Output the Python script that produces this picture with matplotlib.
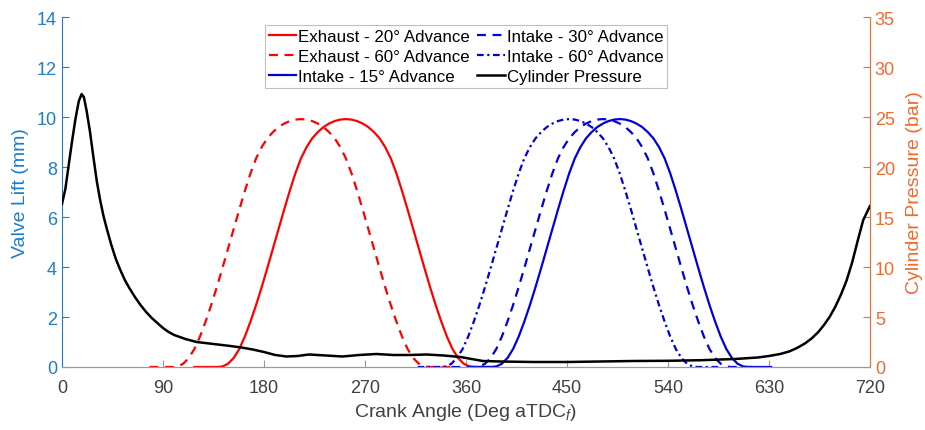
import matplotlib
matplotlib.use('Agg')
import matplotlib.pyplot as plt

plt.rcParams['font.family'] = ['Liberation Sans', 'DejaVu Sans']
plt.rcParams['mathtext.fontset'] = 'custom'
plt.rcParams['mathtext.rm'] = 'Liberation Sans'
plt.rcParams['mathtext.it'] = 'Liberation Sans:italic'

################################
# valve lift profile (deg relative to peak lift, mm)
lift_rel = [-135, -114, -110, -105, -100, -95, -90, -85, -80, -75, -70, -65, -60, -55,
            -50, -45, -40, -35, -30, -25, -20, -15, -10, -5, 0,
            5, 10, 15, 20, 25, 30, 35, 40, 45, 50, 55, 60, 65, 70, 75, 80, 85, 90,
            95, 100, 105, 110, 114, 135]
lift_mm = [0, 0, 0.02, 0.13, 0.36, 0.72, 1.22, 1.82, 2.48, 3.2, 3.96, 4.74, 5.52, 6.3,
           7.05, 7.75, 8.35, 8.8, 9.15, 9.4, 9.6, 9.74, 9.84, 9.9, 9.92,
           9.9, 9.84, 9.74, 9.6, 9.4, 9.15, 8.8, 8.35, 7.75, 7.05, 6.3, 5.52, 4.74,
           3.96, 3.2, 2.48, 1.82, 1.22, 0.72, 0.36, 0.13, 0.02, 0, 0]

# crank angle of peak lift for each valve event
valve_labels = ['Exhaust - 20° Advance', 'Exhaust - 60° Advance', 'Intake - 15° Advance',
                'Intake - 30° Advance', 'Intake - 60° Advance']
valve_peaks = [253, 213, 497, 482, 452]

################################
# cylinder pressure (bar)
crank_deg = [0, 3, 6, 9, 12, 15, 17.5, 19.5, 22, 25, 28, 31, 34, 37, 40, 44, 48, 52, 56,
             60, 65, 70, 75, 80, 85, 90, 95, 100, 110, 120, 135, 150, 160, 170, 180, 190,
             200, 210, 220, 235, 250, 265, 280, 295, 310, 325, 340, 355, 365, 375, 390,
             420, 450, 480, 510, 540, 570, 600, 620, 630, 640, 648, 655, 662, 668, 674,
             679, 684, 689, 694, 699, 704, 709, 714, 720]
pressure_bar = [16.3, 17.8, 20.2, 22.6, 24.8, 26.6, 27.3, 27.0, 25.6, 23.5, 21.0, 18.6,
                16.7, 15.1, 13.8, 12.2, 10.8, 9.7, 8.7, 7.9, 7.0, 6.2, 5.5, 4.9, 4.4,
                3.9, 3.5, 3.2, 2.8, 2.5, 2.3, 2.1, 1.95, 1.75, 1.5, 1.2, 1.05, 1.1,
                1.25, 1.15, 1.05, 1.2, 1.3, 1.2, 1.2, 1.25, 1.15, 1.0, 0.8, 0.6, 0.55,
                0.5, 0.5, 0.55, 0.6, 0.62, 0.68, 0.8, 0.95, 1.1, 1.3, 1.55, 1.9, 2.35,
                2.85, 3.5, 4.2, 5.0, 6.0, 7.2, 8.6, 10.4, 12.6, 14.7, 16.1]

#################################
left_col = '#1B7FCC'
right_col = '#F26A2C'
styles = [dict(color='#FF0000', ls='-'),
          dict(color='#FF0000', ls=(0, (4, 3))),
          dict(color='#0000DD', ls='-'),
          dict(color='#0000DD', ls=(0, (4, 3))),
          dict(color='#0000DD', ls=(0, (3, 1.6, 1, 1.6)))]

fig = plt.figure(figsize=(9.25, 4.31), dpi=100)
ax = fig.add_axes([0.067, 0.1462, 0.8735, 0.8118])
ax2 = ax.twinx()

handles = []
for label, peak, st in zip(valve_labels, valve_peaks, styles):
    xs = [peak + r for r in lift_rel]
    h, = ax.plot(xs, lift_mm, lw=1.6, label=label, **st)
    handles.append(h)

hp, = ax2.plot(crank_deg, pressure_bar, color='black', lw=1.8, label='Cylinder Pressure')
handles.append(hp)

ax.set_xlim(0, 720)
ax.set_ylim(0, 14)
ax2.set_ylim(0, 35)
ax.set_xticks(range(0, 721, 90))
ax.set_yticks(range(0, 15, 2))
ax2.set_yticks(range(0, 36, 5))

for a in (ax, ax2):
    a.spines['top'].set_visible(False)
    a.spines['bottom'].set_color('#9A9A9A')
ax.spines['left'].set_color(left_col)
ax.spines['right'].set_visible(False)
ax2.spines['left'].set_visible(False)
ax2.spines['right'].set_color(right_col)

ax.tick_params(axis='x', direction='in', length=5, colors='#9A9A9A', labelcolor='#404040',
               labelsize=13, pad=9)
ax.tick_params(axis='y', direction='in', length=5, colors=left_col, labelsize=13)
ax2.tick_params(axis='y', direction='in', length=5, colors=right_col, labelsize=13)

ax.set_xlabel('Crank Angle (Deg aTDC$_{f}$)', fontsize=14, color='#404040', labelpad=3)
ax.set_ylabel('Valve Lift (mm)', fontsize=14, color=left_col, labelpad=6)
ax2.set_ylabel('Cylinder Pressure (bar)', fontsize=14, color=right_col, labelpad=8)

leg = ax2.legend(handles=handles, ncol=2, loc='upper center', bbox_to_anchor=(0.5, 0.978),
                 fontsize=12.2, handlelength=1.6, handletextpad=0.12, columnspacing=0.45,
                 labelspacing=0.3, borderpad=0.25, borderaxespad=0, fancybox=False,
                 framealpha=1, edgecolor='#BFBFBF')
leg.get_frame().set_linewidth(0.8)

fig.savefig('out.png', dpi=100)
